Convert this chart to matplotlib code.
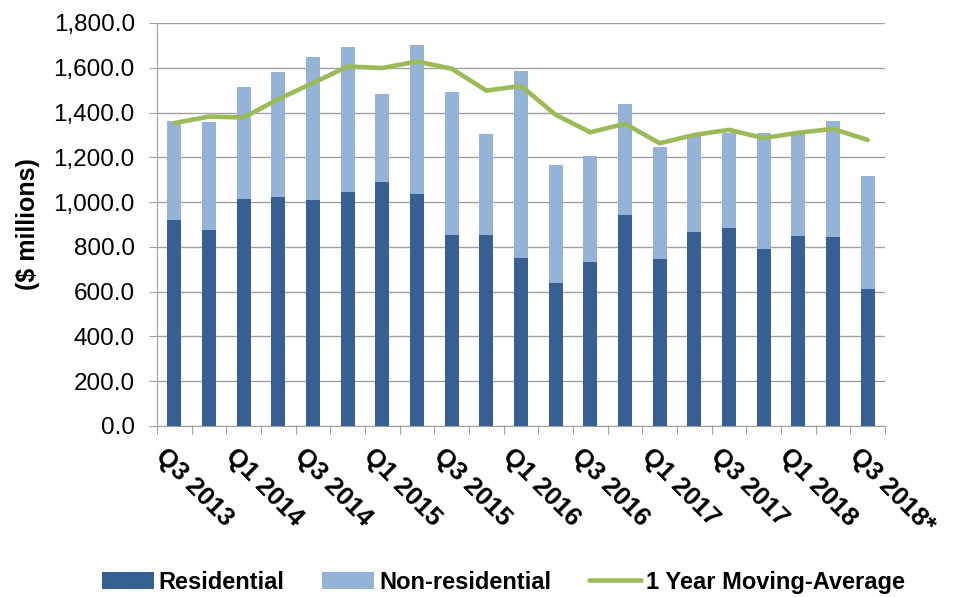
import matplotlib.pyplot as plt
import numpy as np

plt.rcParams['font.family'] = ['Liberation Sans', 'DejaVu Sans']

quarters = ["Q3 2013", "Q4 2013", "Q1 2014", "Q2 2014", "Q3 2014", "Q4 2014",
            "Q1 2015", "Q2 2015", "Q3 2015", "Q4 2015", "Q1 2016", "Q2 2016",
            "Q3 2016", "Q4 2016", "Q1 2017", "Q2 2017", "Q3 2017", "Q4 2017",
            "Q1 2018", "Q2 2018", "Q3 2018*"]
residential = [919, 877, 1015, 1022, 1009, 1044, 1089, 1038, 854, 854, 751,
               637, 734, 941, 746, 865, 883, 792, 849, 842, 613]
total = [1364, 1358, 1514, 1583, 1646, 1691, 1484, 1703, 1491, 1302, 1587,
         1165, 1205, 1439, 1244, 1300, 1308, 1308, 1315, 1364, 1118]
moving_avg = [1353, 1382, 1378, 1460, 1532, 1606, 1599, 1628, 1596, 1498, 1519,
              1390, 1312, 1350, 1263, 1300, 1323, 1286, 1310, 1327, 1278]
non_residential = [t - r for t, r in zip(total, residential)]

x = np.arange(len(quarters))

fig = plt.figure(figsize=(9.55, 5.97), dpi=100)
ax = fig.add_axes([157 / 955, 1 - 426 / 597, (885 - 157) / 955, (426 - 23) / 597])

b1 = ax.bar(x, residential, width=0.4, color='#376092', label='Residential', zorder=2)
b2 = ax.bar(x, non_residential, width=0.4, bottom=residential, color='#95B3D7',
            label='Non-residential', zorder=2)
l1, = ax.plot(x, moving_avg, color='#9BBB59', lw=3.3, label='1 Year Moving-Average',
              zorder=3, solid_capstyle='round')

ax.set_xlim(-0.5, len(quarters) - 0.5)
ax.set_ylim(0, 1800)
ax.set_yticks(np.arange(0, 1801, 200))
ax.set_yticklabels([f"{v:,.1f}" for v in np.arange(0, 1801, 200)], fontsize=17.5)
ax.yaxis.grid(True, color='#A0A0A0', lw=1, zorder=0)
ax.set_axisbelow(True)

# category boundary ticks, labels on every other quarter
ax.set_xticks(np.arange(-0.5, len(quarters), 1))
ax.set_xticklabels([])
ax.tick_params(axis='x', length=6, color='#A0A0A0')
ax.tick_params(axis='y', length=6, color='#A0A0A0', pad=10)
for i in range(0, len(quarters), 2):
    ax.annotate(quarters[i], xy=(i, 0), xycoords=('data', 'axes fraction'),
                xytext=(-6, -18), textcoords='offset pixels',
                rotation=-45, rotation_mode='anchor',
                ha='left', va='top', fontsize=18.5, fontweight='bold')

for s in ['top', 'right']:
    ax.spines[s].set_visible(False)
ax.spines['left'].set_color('#A0A0A0')
ax.spines['bottom'].set_color('#A0A0A0')

ax.set_ylabel('($ millions)', fontsize=18, fontweight='bold', labelpad=10)

fig.legend(handles=[b1, b2, l1], loc='lower center', bbox_to_anchor=(0.527, -0.03),
           ncol=3, frameon=False, prop={'size': 17, 'weight': 'bold'},
           handlelength=2.2, columnspacing=1.6, handletextpad=0.2)

fig.savefig('out.png', dpi=100)
